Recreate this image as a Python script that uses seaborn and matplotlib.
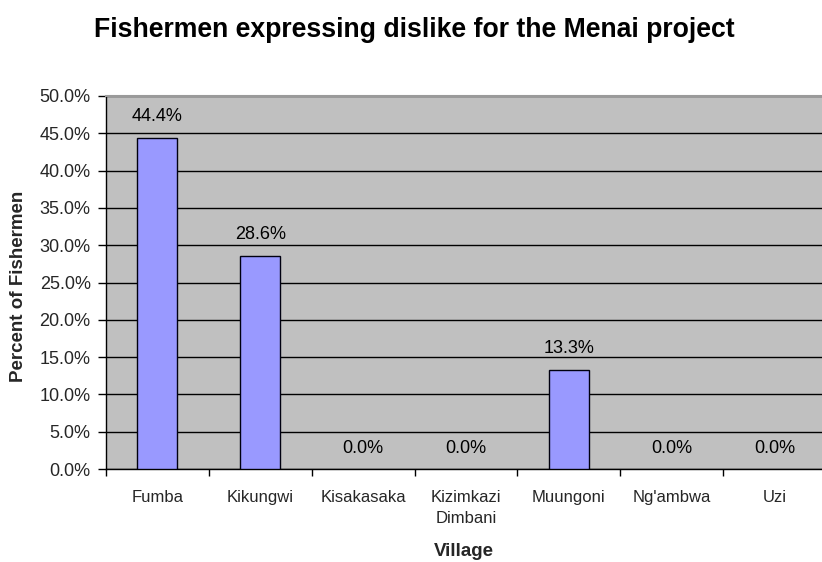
import matplotlib
matplotlib.use("Agg")
import matplotlib.pyplot as plt
import seaborn as sns
import pandas as pd
from matplotlib.ticker import FuncFormatter, MultipleLocator

villages = ["Fumba", "Kikungwi", "Kisakasaka", "Kizimkazi\nDimbani", "Muungoni", "Ng'ambwa", "Uzi"]
percent = [44.4, 28.6, 0.0, 0.0, 13.3, 0.0, 0.0]

df = pd.DataFrame({"Village": villages, "Percent": percent})

sns.set_theme(style="white")
plt.rcParams['font.family'] = ['Liberation Sans', 'DejaVu Sans']

fig = plt.figure(figsize=(8.22, 5.62), dpi=100)
W, H = 822, 562
left, right, top, bottom = 106, 826, 96, 469
ax = fig.add_axes([left / W, 1 - bottom / H, (right - left) / W, (bottom - top) / H])
ax.set_facecolor("#C0C0C0")

sns.barplot(data=df, x="Village", y="Percent", ax=ax, color="#9999FF",
            saturation=1, width=0.39, edgecolor="#000010", linewidth=1.0, zorder=3)
for patch in ax.patches:
    if patch.get_height() == 0:
        patch.set_visible(False)

ax.set_ylim(0, 50)
ax.set_xlim(-0.5, 6.5)
ax.yaxis.set_major_locator(MultipleLocator(5))
ax.yaxis.set_major_formatter(FuncFormatter(lambda v, p: f"{v:.1f}%"))
ax.grid(axis="y", color="#000000", linewidth=1.0, zorder=1)
ax.set_axisbelow(True)

ax.spines["right"].set_visible(False)
ax.spines["top"].set_color("#9A9A9A")
ax.spines["top"].set_linewidth(1.5)
ax.spines["top"].set_zorder(5)
for s in ["left", "bottom"]:
    ax.spines[s].set_color("#000000")
    ax.spines[s].set_linewidth(1.0)

ax.set_xticks([i - 0.5 for i in range(7)], minor=False)
ax.set_xticklabels([])
ax.set_xticks(range(7), minor=True)
ax.set_xticklabels(villages, minor=True, fontsize=12, linespacing=1.55)
ax.tick_params(axis="x", which="major", length=5, width=1, color="black", direction="out", bottom=True)
ax.tick_params(axis="x", which="minor", length=0, pad=15)
ax.tick_params(axis="y", length=6, width=1, color="black", direction="out", left=True, labelsize=13, pad=5)

for i, v in enumerate(percent):
    ax.text(i, v + 2.8, f"{v:.1f}%", ha="center", va="center", fontsize=13, color="black")

ax.set_xlabel("Village", fontsize=13.5, fontweight="bold")
ax.xaxis.set_label_coords((464 - left) / (right - left), -(552 - bottom) / (bottom - top))
ax.xaxis.label.set_va("center")
ax.set_ylabel("Percent of Fishermen", fontsize=13.5, fontweight="bold")
ax.yaxis.set_label_coords(-(left - 18) / (right - left), (bottom - 286) / (bottom - top))
ax.yaxis.label.set_va("center")

fig.text(414.5 / W, 1 - 30 / H, "Fishermen expressing dislike for the Menai project",
         ha="center", va="center", fontsize=19.2, fontweight="bold", color="black")

fig.savefig("out.png", dpi=100, facecolor="white")
